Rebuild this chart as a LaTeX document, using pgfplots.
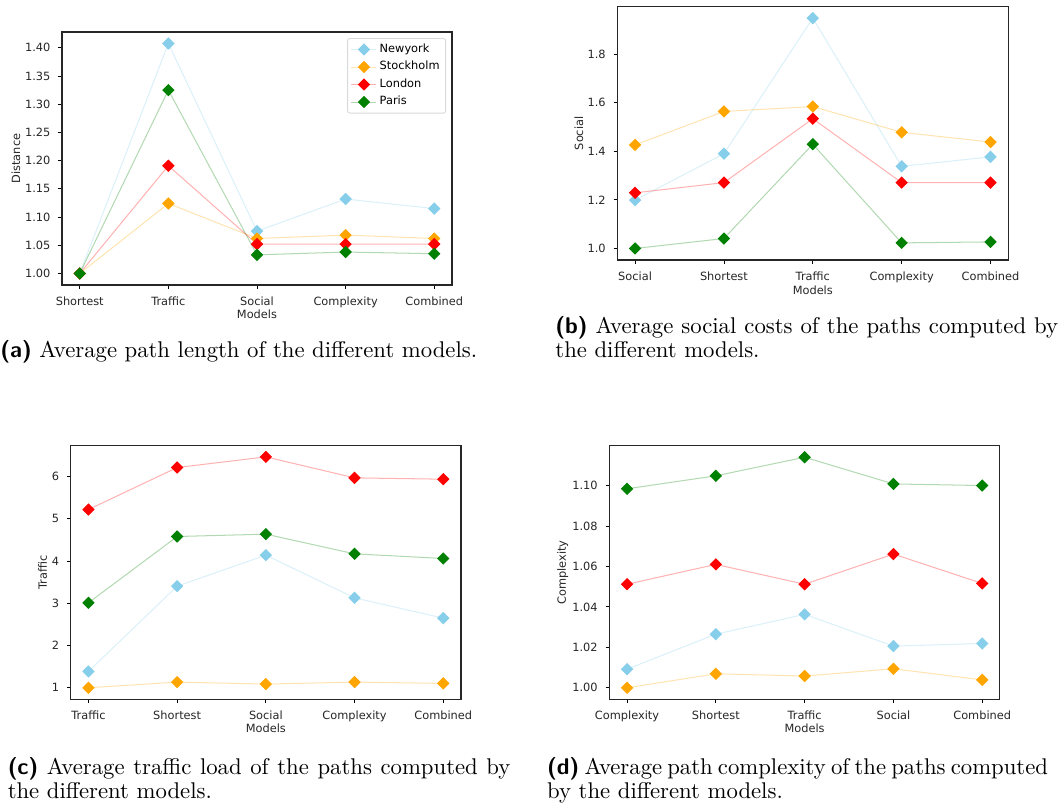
\documentclass[border=0pt]{standalone}
\usepackage{fontspec}
\usepackage{pgfplots}
\pgfplotsset{compat=1.18}
\newfontfamily\dejavu{DejaVu Sans}
\definecolor{skyblue}{RGB}{135,206,235}
\definecolor{orng}{RGB}{255,165,0}
\definecolor{grn}{RGB}{0,128,0}
\definecolor{rd}{RGB}{255,0,0}
\newcommand{\tickfont}{\dejavu\fontsize{5}{6}\selectfont}
\pgfplotsset{
  mystyle/.style={
    scale only axis,
    anchor=south west,
    xmin=-0.2, xmax=4.2,
    xtick={0,1,2,3,4},
    tick align=outside,
    xtick pos=left, ytick pos=left,
    major tick length=1.6pt,
    tick style={black, line width=0.35pt},
    axis line style={black!85, line width=0.45pt},
    ticklabel style={font=\tickfont, text=black!85},
    label style={font=\tickfont, text=black!85},
    /pgf/number format/assume math mode=true,
    scaled y ticks=false,
    every axis plot/.append style={line width=0.45pt, draw opacity=0.3, mark=square*, mark size=1.7pt,
      mark options={rotate=45, draw opacity=1, fill opacity=1}},
  },
  ny/.style={color=skyblue},
  st/.style={color=orng},
  ld/.style={color=rd},
  pr/.style={color=grn},
}
\begin{document}
\begin{tikzpicture}[x=0.44pt,y=0.44pt]
\path[use as bounding box] (0,0) rectangle (1059,803);

% (a)
\begin{axis}[mystyle, at={(27.28pt,227.92pt)}, width=171.6pt, height=111.32pt,
  xticklabels={Shortest,Traffic,Social,Complexity,Combined},
  ymin=0.9796, ymax=1.428,
  ytick={1,1.05,1.1,1.15,1.2,1.25,1.3,1.35,1.4},
  yticklabel style={/pgf/number format/.cd, fixed, fixed zerofill, precision=2},
  xlabel={Models}, ylabel={Distance},
  xlabel style={at={(axis description cs:0.5,-0.1146)}, anchor=center},
  ylabel style={at={(axis description cs:-0.118,0.5)}, anchor=center, rotate=0},
  legend style={at={(0.985,0.976)}, anchor=north east, font=\tickfont, draw=black!15, rounded corners=1pt,
    inner xsep=1.5pt, inner ysep=1pt, row sep=0pt, cells={anchor=west}, nodes={inner sep=1.2pt}},
  legend image code/.code={\draw[#1, mark repeat=2, mark phase=2] plot coordinates {(0pt,0pt) (5.5pt,0pt) (11pt,0pt)};},
]
\addplot[ny] coordinates {(0,1.000) (1,1.4076) (2,1.075) (3,1.132) (4,1.115)};
\addlegendentry{Newyork}
\addplot[st] coordinates {(0,1.000) (1,1.124) (2,1.062) (3,1.068) (4,1.062)};
\addlegendentry{Stockholm}
\addplot[ld] coordinates {(0,1.000) (1,1.191) (2,1.052) (3,1.052) (4,1.052)};
\addlegendentry{London}
\addplot[pr] coordinates {(0,1.000) (1,1.325) (2,1.033) (3,1.038) (4,1.035)};
\addlegendentry{Paris}
\end{axis}

% (b)
\begin{axis}[mystyle, at={(271.61pt,238.92pt)}, width=172.04pt, height=111.45pt,
  xticklabels={Social,Shortest,Traffic,Complexity,Combined},
  ymin=0.9526, ymax=1.995,
  ytick={1,1.2,1.4,1.6,1.8},
  yticklabel style={/pgf/number format/.cd, fixed, fixed zerofill, precision=1},
  xlabel={Models}, ylabel={Social},
  xlabel style={at={(axis description cs:0.5,-0.118)}, anchor=center},
  ylabel style={at={(axis description cs:-0.098,0.5)}, anchor=center},
]
\addplot[ny] coordinates {(0,1.199) (1,1.390) (2,1.948) (3,1.338) (4,1.377)};
\addplot[st] coordinates {(0,1.426) (1,1.564) (2,1.584) (3,1.478) (4,1.438)};
\addplot[ld] coordinates {(0,1.229) (1,1.271) (2,1.534) (3,1.271) (4,1.271)};
\addplot[pr] coordinates {(0,1.000) (1,1.041) (2,1.429) (3,1.023) (4,1.027)};
\end{axis}

% (c)
\begin{axis}[mystyle, at={(31.11pt,45.63pt)}, width=171.73pt, height=111.58pt,
  xticklabels={Traffic,Shortest,Social,Complexity,Combined},
  ymin=0.727, ymax=6.73,
  ytick={1,2,3,4,5,6},
  xlabel={Models}, ylabel={Traffic},
  xlabel style={at={(axis description cs:0.5,-0.114)}, anchor=center},
  ylabel style={at={(axis description cs:-0.0717,0.5)}, anchor=center},
]
\addplot[ny] coordinates {(0,1.386) (1,3.405) (2,4.139) (3,3.129) (4,2.648)};
\addplot[st] coordinates {(0,1.000) (1,1.134) (2,1.087) (3,1.134) (4,1.103)};
\addplot[ld] coordinates {(0,5.219) (1,6.213) (2,6.465) (3,5.968) (4,5.937)};
\addplot[pr] coordinates {(0,3.011) (1,4.580) (2,4.636) (3,4.170) (4,4.060)};
\end{axis}

% (d)
\begin{axis}[mystyle, at={(268.09pt,45.63pt)}, width=171.9pt, height=111.58pt,
  xticklabels={Complexity,Shortest,Traffic,Social,Combined},
  ymin=0.9943, ymax=1.1197,
  ytick={1,1.02,1.04,1.06,1.08,1.1},
  yticklabel style={/pgf/number format/.cd, fixed, fixed zerofill, precision=2},
  xlabel={Models}, ylabel={Complexity},
  xlabel style={at={(axis description cs:0.5,-0.114)}, anchor=center},
  ylabel style={at={(axis description cs:-0.119,0.5)}, anchor=center},
]
\addplot[ny] coordinates {(0,1.0092) (1,1.0265) (2,1.0363) (3,1.0206) (4,1.0219)};
\addplot[st] coordinates {(0,1.0000) (1,1.0069) (2,1.0058) (3,1.0094) (4,1.0039)};
\addplot[ld] coordinates {(0,1.0512) (1,1.0610) (2,1.0512) (3,1.0661) (4,1.0516)};
\addplot[pr] coordinates {(0,1.0984) (1,1.1048) (2,1.1140) (3,1.1008) (4,1.1000)};
\end{axis}

% captions
\node[anchor=base west, inner sep=0, font=\fontsize{10}{10.56}\selectfont] at (0,445)
  {{\sffamily\bfseries (a)} Average path length of the different models.};
\node[anchor=base west, inner sep=0, align=left, font=\fontsize{10}{10.56}\selectfont] at (555,445)
  {\makebox[221.2pt][s]{{\sffamily\bfseries (b)} Average social costs of the paths computed by}\\the different models.};
\node[anchor=base west, inner sep=0, align=left, font=\fontsize{10}{10.56}\selectfont] at (7.3,4.7)
  {\makebox[221.2pt][s]{{\sffamily\bfseries (c)} Average traffic load of the paths computed by}\\the different models.};
\node[anchor=base west, inner sep=0, align=left, font=\fontsize{10}{10.56}\selectfont] at (546.7,4.7)
  {\makebox[220.4pt][s]{{\sffamily\bfseries (d)} Average path complexity of the paths computed}\\by the different models.};
\end{tikzpicture}
\end{document}
